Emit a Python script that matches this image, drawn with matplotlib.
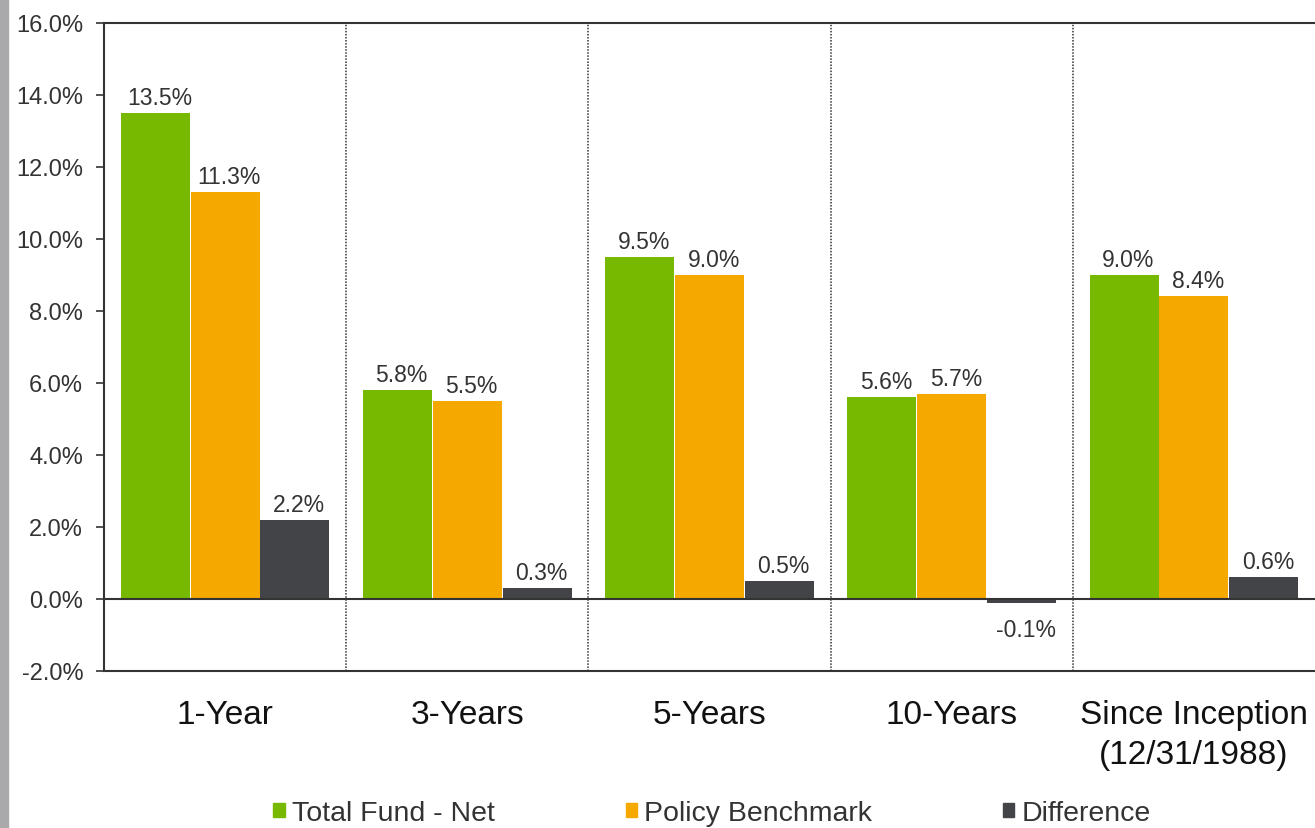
import numpy as np
import matplotlib.pyplot as plt
from matplotlib.patches import Patch, Rectangle

plt.rcParams['font.family'] = ['Liberation Sans', 'DejaVu Sans']

periods = ['1-Year', '3-Years', '5-Years', '10-Years', 'Since Inception\n(12/31/1988)']
total_fund = [13.5, 5.8, 9.5, 5.6, 9.0]
benchmark = [11.3, 5.5, 9.0, 5.7, 8.4]
difference = [2.2, 0.3, 0.5, -0.1, 0.6]
series_names = ['Total Fund - Net', 'Policy Benchmark', 'Difference']
colors = ['#77b800', '#f5a900', '#424448']
yticks = np.arange(-2, 17, 2)

fig = plt.figure(figsize=(13.15, 8.29), dpi=100)
ax = fig.add_axes([0.0791, 0.1894, 0.9209, 0.782])

# gray frame strip along the left edge
fig.patches.append(Rectangle((0, 0), 0.006, 1, transform=fig.transFigure,
                             color='#a9a9ab', zorder=0))

x = np.arange(len(periods))
width = 0.285
offsets = [-0.288, 0.0, 0.288]
for vals, off, c, name in zip([total_fund, benchmark, difference], offsets, colors, series_names):
    bars = ax.bar(x + off, vals, width, color=c, label=name, zorder=2)
    for b, v in zip(bars, vals):
        if v >= 0:
            ax.annotate(f'{v:.1f}%', (b.get_x() + b.get_width() / 2, v),
                        xytext=(3, 3), textcoords='offset points',
                        ha='center', va='bottom', fontsize=16.5, color='#333333')
        else:
            ax.annotate(f'{v:.1f}%', (b.get_x() + b.get_width() / 2, v),
                        xytext=(3, -11), textcoords='offset points',
                        ha='center', va='top', fontsize=16.5, color='#333333')

ax.set_xlim(-0.5, len(periods) - 0.5)
ax.set_ylim(-2, 16)
ax.set_yticks(yticks)
ax.set_yticklabels([f'{t:.1f}%' for t in yticks], fontsize=17, color='#333333')
ax.tick_params(axis='y', direction='out', length=6, width=1.2, color='#333333', pad=9)

ax.set_xticks(x)
ax.set_xticklabels(periods, fontsize=24, color='#111111', va='top', linespacing=1.4)
ax.tick_params(axis='x', length=0, pad=20)

ax.axhline(0, color='#333333', lw=1.5, zorder=3)
for b in np.arange(0.5, len(periods) - 0.5, 1):
    ax.axvline(b, color='#333333', lw=1.1, ls=(0, (1, 1)), zorder=1)

for side in ['left', 'bottom', 'top']:
    ax.spines[side].set_color('#333333')
    ax.spines[side].set_linewidth(1.5)
ax.spines['right'].set_visible(False)

handles = [Patch(color=c, label=n) for c, n in zip(colors, series_names)]
fig.legend(handles=handles, loc='center', bbox_to_anchor=(0.5415, 0.018), ncol=3,
           frameon=False, fontsize=20.5, handlelength=0.4, handleheight=0.4,
           handletextpad=0.25, columnspacing=4.6, labelcolor='#333333')

fig.savefig('out.png', dpi=100)
